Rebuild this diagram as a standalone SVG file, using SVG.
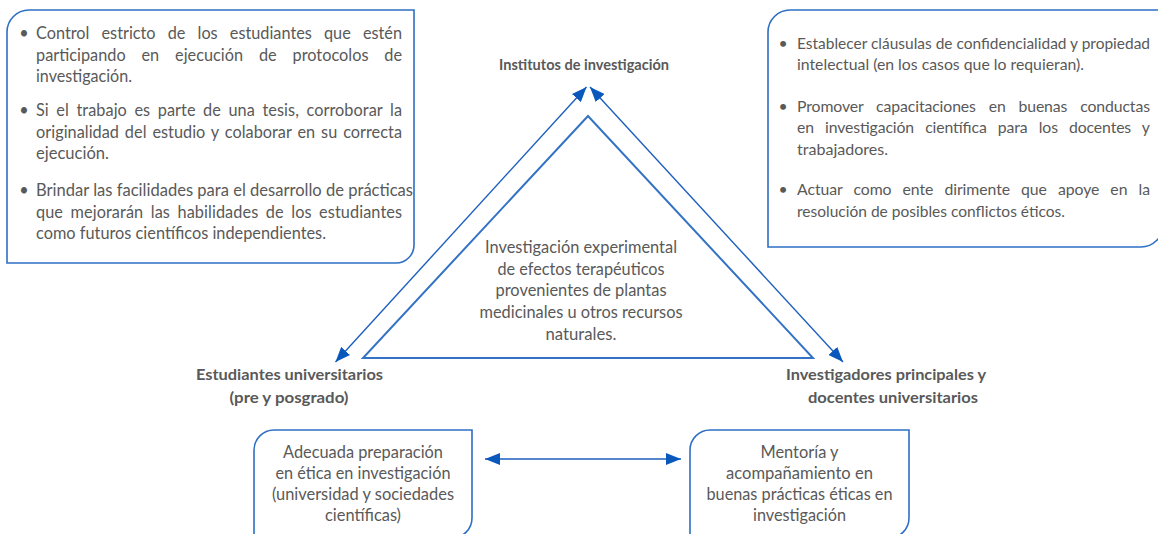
<svg xmlns="http://www.w3.org/2000/svg" width="1158" height="534" viewBox="0 0 1158 534">
<defs>
<style>
.box{fill:none;stroke:#2E6FC5;stroke-width:1.6}
.t{font-family:Lato,"Open Sans","Liberation Sans",sans-serif;font-size:16.3px;fill:#595959}
.tr{font-family:Lato,"Open Sans","Liberation Sans",sans-serif;font-size:15.8px;fill:#595959}
.c{text-anchor:middle}
.b{font-family:Lato,"Open Sans","Liberation Sans",sans-serif;font-weight:bold;font-size:16px;fill:#595959;text-anchor:middle}
.conn{stroke:#1D5FBF;stroke-width:1.4;fill:none}
</style>
<marker id="ah" viewBox="0 0 15 12" refX="15" refY="6" markerWidth="15" markerHeight="12" markerUnits="userSpaceOnUse" orient="auto-start-reverse">
<path d="M0,0 L15,6 L0,12 Z" fill="#0A58BC"/>
</marker>
</defs>
<rect width="1158" height="534" fill="#ffffff"/>

<g id="connectors">
<line class="conn" x1="335.5" y1="362" x2="586.5" y2="87" marker-start="url(#ah)" marker-end="url(#ah)"/>
<line class="conn" x1="590" y1="87" x2="843" y2="362" marker-start="url(#ah)" marker-end="url(#ah)"/>
<line class="conn" x1="485" y1="459" x2="681" y2="459" marker-start="url(#ah)" marker-end="url(#ah)"/>
</g>

<g id="box-left">
<path class="box" d="M7,32 A22,22 0 0 1 29,10 L414,10 L414,245 A18,18 0 0 1 396,263 L7,263 Z"/>
<text class="t c" x="24" y="39.3">•</text>
<text class="t" x="36" y="39.3" style="word-spacing:8px" textLength="366" lengthAdjust="spacing">Control estricto de los estudiantes que estén</text>
<text class="t" x="36" y="61" style="word-spacing:11.6px" textLength="366" lengthAdjust="spacing">participando en ejecución de protocolos de</text>
<text class="t" x="36" y="82" textLength="96" lengthAdjust="spacingAndGlyphs">investigación.</text>
<text class="t c" x="24" y="116">•</text>
<text class="t" x="36" y="116" style="word-spacing:3.3px" textLength="366" lengthAdjust="spacing">Si el trabajo es parte de una tesis, corroborar la</text>
<text class="t" x="36" y="137.7" style="word-spacing:1.7px" textLength="366" lengthAdjust="spacing">originalidad del estudio y colaborar en su correcta</text>
<text class="t" x="36" y="159.3" textLength="73" lengthAdjust="spacingAndGlyphs">ejecución.</text>
<text class="t c" x="24" y="196">•</text>
<text class="t" x="36" y="196" textLength="377" lengthAdjust="spacingAndGlyphs">Brindar las facilidades para el desarrollo de prácticas</text>
<text class="t" x="36" y="217.7" style="word-spacing:3.3px" textLength="366" lengthAdjust="spacing">que mejorarán las habilidades de los estudiantes</text>
<text class="t" x="36" y="239.3" textLength="290" lengthAdjust="spacingAndGlyphs">como futuros científicos independientes.</text>
</g>

<g id="box-right">
<path class="box" d="M768,32 A22,22 0 0 1 790,10 L1163,10 L1163,225 A22,22 0 0 1 1141,247 L768,247 Z"/>
<text class="tr c" x="783" y="49">•</text>
<text class="tr" x="797" y="49" textLength="353" lengthAdjust="spacingAndGlyphs">Establecer cláusulas de confidencialidad y propiedad</text>
<text class="tr" x="797" y="70" textLength="287" lengthAdjust="spacingAndGlyphs">intelectual (en los casos que lo requieran).</text>
<text class="tr c" x="783" y="111.5">•</text>
<text class="tr" x="797" y="111.5" style="word-spacing:8.9px" textLength="353" lengthAdjust="spacing">Promover capacitaciones en buenas conductas</text>
<text class="tr" x="797" y="133" style="word-spacing:7.3px" textLength="353" lengthAdjust="spacing">en investigación científica para los docentes y</text>
<text class="tr" x="797" y="155" textLength="91" lengthAdjust="spacingAndGlyphs">trabajadores.</text>
<text class="tr c" x="783" y="195">•</text>
<text class="tr" x="797" y="195" style="word-spacing:7.1px" textLength="353" lengthAdjust="spacing">Actuar como ente dirimente que apoye en la</text>
<text class="tr" x="797" y="217" textLength="268" lengthAdjust="spacingAndGlyphs">resolución de posibles conflictos éticos.</text>
</g>

<g id="node-institutos">
<text class="b" x="584" y="70" style="font-size:14.4px" textLength="170" lengthAdjust="spacingAndGlyphs">Institutos de investigación</text>
</g>

<g id="node-centro">
<polygon points="588,116 363,358 813,358" fill="none" stroke="#3372C4" stroke-width="2"/>
<text class="t c" x="581" y="253" textLength="192" lengthAdjust="spacingAndGlyphs">Investigación experimental</text>
<text class="t c" x="581" y="274.7" textLength="167" lengthAdjust="spacingAndGlyphs">de efectos terapéuticos</text>
<text class="t c" x="581" y="296.4" textLength="171" lengthAdjust="spacingAndGlyphs">provenientes de plantas</text>
<text class="t c" x="581" y="318.1" textLength="203" lengthAdjust="spacingAndGlyphs">medicinales u otros recursos</text>
<text class="t c" x="581" y="339.8" textLength="71" lengthAdjust="spacingAndGlyphs">naturales.</text>
</g>

<g id="node-estudiantes">
<text class="b" x="289.5" y="380" textLength="187" lengthAdjust="spacingAndGlyphs">Estudiantes universitarios</text>
<text class="b" x="289" y="402.5" textLength="119" lengthAdjust="spacingAndGlyphs">(pre y posgrado)</text>
</g>

<g id="node-investigadores">
<text class="b" x="886" y="380" textLength="200" lengthAdjust="spacingAndGlyphs">Investigadores principales y</text>
<text class="b" x="893" y="402.5" textLength="170" lengthAdjust="spacingAndGlyphs">docentes universitarios</text>
</g>

<g id="box-preparacion">
<path class="box" d="M254,450 A20,20 0 0 1 274,430 L472,430 L472,518 A20,20 0 0 1 452,538 L254,538 Z"/>
<text class="t c" x="363" y="457.7" textLength="160" lengthAdjust="spacingAndGlyphs">Adecuada preparación</text>
<text class="t c" x="363" y="479" textLength="175" lengthAdjust="spacingAndGlyphs">en ética en investigación</text>
<text class="t c" x="363" y="500" textLength="182" lengthAdjust="spacingAndGlyphs">(universidad y sociedades</text>
<text class="t c" x="363" y="521.3" textLength="76" lengthAdjust="spacingAndGlyphs">científicas)</text>
</g>

<g id="box-mentoria">
<path class="box" d="M690,450 A20,20 0 0 1 710,430 L909,430 L909,518 A20,20 0 0 1 889,538 L690,538 Z"/>
<text class="t c" x="799.5" y="457.7" textLength="78" lengthAdjust="spacingAndGlyphs">Mentoría y</text>
<text class="t c" x="799.5" y="479" textLength="147" lengthAdjust="spacingAndGlyphs">acompañamiento en</text>
<text class="t c" x="799.5" y="500" textLength="186" lengthAdjust="spacingAndGlyphs">buenas prácticas éticas en</text>
<text class="t c" x="799.5" y="521.3" textLength="93" lengthAdjust="spacingAndGlyphs">investigación</text>
</g>
</svg>
